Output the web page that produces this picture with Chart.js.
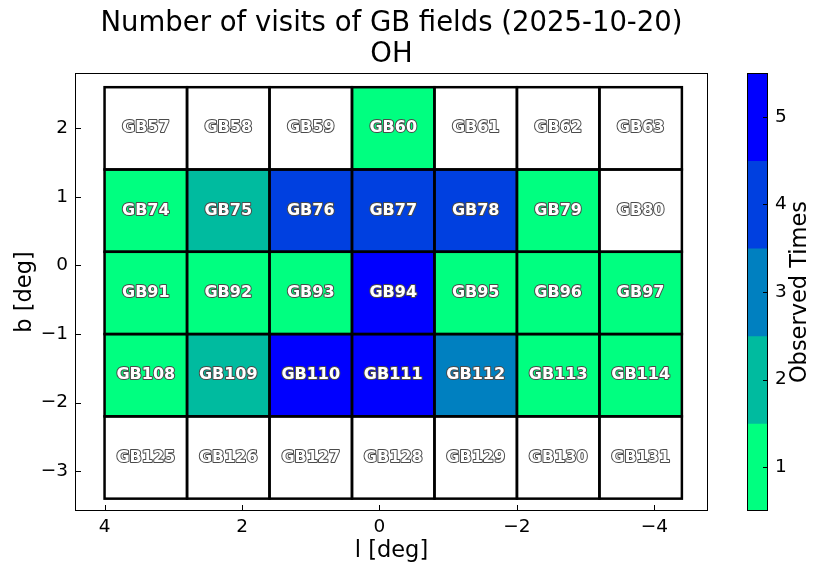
<!DOCTYPE html>
<html>
<head>
<meta charset="utf-8">
<script src="https://cdn.jsdelivr.net/npm/chart.js@4.4.1/dist/chart.umd.min.js"></script>
<style>
html, body { margin: 0; padding: 0; background: #fff; }
#wrap { position: relative; width: 822px; height: 575px; }
#main { position: absolute; left: 0; top: 0; }
#cbar { position: absolute; left: 747px; top: 0; }
</style>
</head>
<body>
<div id="wrap">
  <canvas id="main" width="822" height="575"></canvas>
  <canvas id="cbar" width="75" height="575"></canvas>
</div>
<script>
// field centres (deg) and names
const lCenters = [3.4, 2.2, 1.0, -0.2, -1.4, -2.6, -3.8];
const bCenters = [2.0, 0.8, -0.4, -1.6, -2.8];
const cellSize = 1.2;
const fieldNames = [
    ['GB57', 'GB58', 'GB59', 'GB60', 'GB61', 'GB62', 'GB63'],
    ['GB74', 'GB75', 'GB76', 'GB77', 'GB78', 'GB79', 'GB80'],
    ['GB91', 'GB92', 'GB93', 'GB94', 'GB95', 'GB96', 'GB97'],
    ['GB108', 'GB109', 'GB110', 'GB111', 'GB112', 'GB113', 'GB114'],
    ['GB125', 'GB126', 'GB127', 'GB128', 'GB129', 'GB130', 'GB131']
];
const visits = [
    [0, 0, 0, 1, 0, 0, 0],
    [1, 2, 4, 4, 4, 1, 0],
    [1, 1, 1, 5, 1, 1, 1],
    [1, 2, 5, 5, 3, 1, 1],
    [0, 0, 0, 0, 0, 0, 0]
];
const levels = [1, 2, 3, 4, 5];
const levelColors = ['#00ff80', '#00bb9f', '#0080c0', '#0040e0', '#0000ff'];
const xTicks = [4, 2, 0, -2, -4];
const yTicks = [2, 1, 0, -1, -2, -3];

const FONT = '"DejaVu Sans", sans-serif';

// flatten the grid into one bar dataset
const cells = [];
const cellColors = [];
const cellNames = [];
bCenters.forEach((b, r) => {
    lCenters.forEach((l, c) => {
        cells.push({ x: l, y: [b - cellSize / 2, b + cellSize / 2] });
        const v = visits[r][c];
        cellColors.push(v > 0 ? levelColors[v - 1] : '#ffffff');
        cellNames.push(fieldNames[r][c]);
    });
});

// cell borders + labels
const cellGrid = {
    id: 'cellGrid',
    afterDatasetsDraw(chart) {
        const ctx = chart.ctx;
        const meta = chart.getDatasetMeta(0);
        ctx.save();
        ctx.strokeStyle = '#000';
        ctx.lineWidth = 2.5;
        meta.data.forEach(bar => {
            const p = bar.getProps(['x', 'y', 'base', 'width'], true);
            ctx.strokeRect(p.x - p.width / 2, Math.min(p.y, p.base), p.width, Math.abs(p.base - p.y));
        });
        ctx.font = 'bold 16px ' + FONT;
        ctx.textAlign = 'center';
        ctx.textBaseline = 'middle';
        ctx.lineJoin = 'round';
        meta.data.forEach((bar, i) => {
            const p = bar.getProps(['x', 'y', 'base'], true);
            const cy = (p.y + p.base) / 2;
            ctx.strokeStyle = '#4a4a4a';
            ctx.lineWidth = 2;
            ctx.strokeText(cellNames[i], p.x, cy);
            ctx.fillStyle = '#ffffff';
            ctx.fillText(cellNames[i], p.x, cy);
        });
        ctx.restore();
    }
};

// frame and inward ticks
const frame = {
    id: 'frame',
    afterDraw(chart) {
        const ctx = chart.ctx;
        const a = chart.chartArea;
        ctx.save();
        ctx.strokeStyle = '#000';
        ctx.lineWidth = 1;
        ctx.strokeRect(Math.round(a.left) + 0.5, Math.round(a.top) + 0.5,
            Math.round(a.right - a.left) - 1, Math.round(a.bottom - a.top) - 1);
        const xs = chart.scales.x, ys = chart.scales.y;
        ctx.beginPath();
        xTicks.forEach(v => {
            const px = Math.round(xs.getPixelForValue(v)) + 0.5;
            ctx.moveTo(px, a.bottom);
            ctx.lineTo(px, a.bottom - 6);
        });
        yTicks.forEach(v => {
            const py = Math.round(ys.getPixelForValue(v)) + 0.5;
            ctx.moveTo(a.left, py);
            ctx.lineTo(a.left + 6, py);
        });
        ctx.stroke();
        ctx.restore();
    }
};

new Chart(document.getElementById('main'), {
    type: 'bar',
    data: {
        datasets: [{
            data: cells,
            backgroundColor: cellColors,
            borderWidth: 0,
            barPercentage: 1,
            categoryPercentage: 1
        }]
    },
    options: {
        responsive: false,
        animation: false,
        layout: { padding: { left: 0, right: 114, top: 0, bottom: 0 } },
        plugins: {
            legend: { display: false },
            tooltip: { enabled: false },
            title: {
                display: true,
                fullSize: false,
                text: ['Number of visits of GB fields (2025-10-20)', 'OH'],
                color: '#000',
                font: { family: FONT, size: 27.5, weight: 'normal', lineHeight: 1.16 },
                padding: { top: 7.5, bottom: 1.7 }
            }
        },
        scales: {
            x: {
                type: 'linear',
                reverse: true,
                offset: false,
                min: -4.78,
                max: 4.43,
                afterBuildTicks: s => { s.ticks = xTicks.map(v => ({ value: v })); },
                afterFit: s => { s.height = 64; },
                grid: { display: false, drawTicks: false },
                border: { display: false },
                ticks: {
                    color: '#000',
                    padding: 5,
                    maxRotation: 0,
                    font: { family: FONT, size: 18.5 },
                    callback: v => String(v).replace('-', '\u2212')
                },
                title: {
                    display: true,
                    text: 'l [deg]',
                    color: '#000',
                    font: { family: FONT, size: 22.5 },
                    padding: { top: 0, bottom: 10.5 }
                }
            },
            y: {
                type: 'linear',
                min: -3.58,
                max: 2.807,
                afterBuildTicks: s => { s.ticks = yTicks.map(v => ({ value: v })); },
                afterFit: s => { s.width = 75; },
                grid: { display: false, drawTicks: false },
                border: { display: false },
                ticks: {
                    color: '#000',
                    padding: 7,
                    font: { family: FONT, size: 18.5 },
                    callback: v => String(v).replace('-', '\u2212')
                },
                title: {
                    display: true,
                    text: 'b [deg]',
                    color: '#000',
                    font: { family: FONT, size: 22.5 },
                    padding: { top: 11.5, bottom: 0 }
                }
            }
        }
    },
    plugins: [cellGrid, frame]
});

// colorbar
const cbarFrame = {
    id: 'cbarFrame',
    afterDraw(chart) {
        const ctx = chart.ctx;
        const a = chart.chartArea;
        const ys = chart.scales.y;
        ctx.save();
        ctx.strokeStyle = '#000';
        ctx.lineWidth = 1;
        ctx.strokeRect(Math.round(a.left) + 0.5, Math.round(a.top) + 0.5,
            Math.round(a.right - a.left) - 1, Math.round(a.bottom - a.top) - 1);
        ctx.beginPath();
        levels.forEach(v => {
            const py = Math.round(ys.getPixelForValue(v)) + 0.5;
            ctx.moveTo(a.right, py);
            ctx.lineTo(a.right - 5, py);
        });
        ctx.stroke();
        ctx.translate(53, (a.top + a.bottom) / 2);
        ctx.rotate(-Math.PI / 2);
        ctx.font = '22.5px ' + FONT;
        ctx.fillStyle = '#000';
        ctx.textAlign = 'center';
        ctx.textBaseline = 'middle';
        ctx.fillText('Observed Times', 0, 0);
        ctx.restore();
    }
};

new Chart(document.getElementById('cbar'), {
    type: 'bar',
    data: {
        labels: [''],
        datasets: [{
            data: levels.map(v => ({ x: '', y: [v - 0.5, v + 0.5] })),
            backgroundColor: levelColors,
            borderWidth: 0,
            barPercentage: 1,
            categoryPercentage: 1
        }]
    },
    options: {
        responsive: false,
        animation: false,
        layout: { padding: { left: 0, right: 0, top: 73, bottom: 64 } },
        plugins: { legend: { display: false }, tooltip: { enabled: false } },
        scales: {
            x: { display: false, offset: true },
            y: {
                position: 'right',
                min: 0.5,
                max: 5.5,
                afterBuildTicks: s => { s.ticks = levels.map(v => ({ value: v })); },
                afterFit: s => { s.width = 54; },
                grid: { display: false, drawTicks: false },
                border: { display: false },
                ticks: {
                    color: '#000',
                    padding: 7,
                    font: { family: FONT, size: 18.5 }
                }
            }
        }
    },
    plugins: [cbarFrame]
});
</script>
</body>
</html>
